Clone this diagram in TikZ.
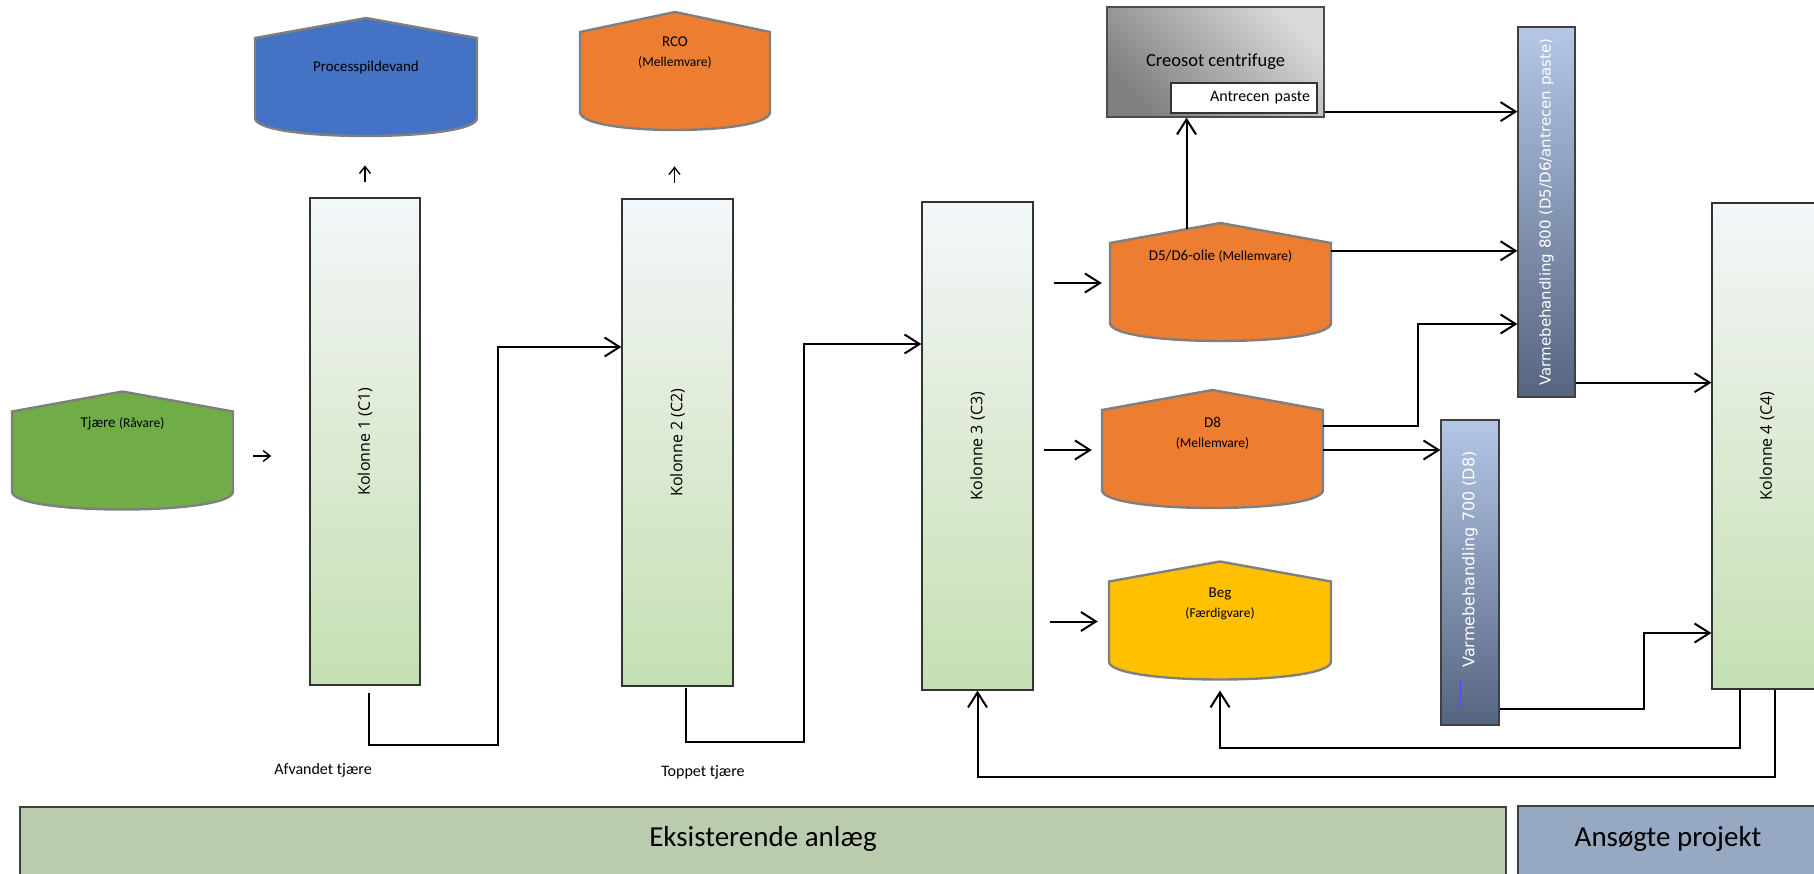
\documentclass[tikz,border=0pt]{standalone}
\usepackage{fontspec}
\setmainfont{Carlito}
\newfontfamily\kolfont{Open Sans}
\newfontfamily\vbfont{DejaVu Sans}
\usepackage{xcolor}
\usepackage{tikz}
\usetikzlibrary{arrows.meta}

\definecolor{tankline}{HTML}{7F7F7F}
\definecolor{tjgreen}{HTML}{70AD47}
\definecolor{procblue}{HTML}{4472C4}
\definecolor{mvorange}{HTML}{ED7D31}
\definecolor{beggold}{HTML}{FFC000}
\definecolor{koltop}{HTML}{F3F7FB}
\definecolor{kolmid}{HTML}{DDEAD3}
\definecolor{kolbot}{HTML}{C5E0B4}
\definecolor{vbtop}{HTML}{B4C7E7}
\definecolor{vbbot}{HTML}{56657F}
\definecolor{eksgreen}{HTML}{BBCCAE}
\definecolor{ansblue}{HTML}{97A8C3}

\newcommand{\mainsz}{\fontsize{15}{20}\selectfont}
\newcommand{\smallsz}{\fontsize{13.5}{20}\selectfont}

\tikzset{
kolonne/.style = { rectangle, draw = black!80, line width = 1.2pt, top color = koltop, bottom color = kolbot, middle color = kolmid, inner sep = 0pt },
koltext/.style = { rotate = 90, inner sep = 0pt, font = \kolfont\fontsize{16}{19}\selectfont },
vb/.style = { rectangle, draw = black!75, line width = 1.2pt, top color = vbtop, bottom color = vbbot, inner sep = 0pt },
vbtext/.style = { rotate = 90, inner sep = 0pt, text = white, font = \vbfont\fontsize{15}{18}\selectfont },
tanktext/.style = { align = center, inner sep = 0pt, font = \mainsz },
labeltext/.style = { inner sep = 0pt, font = \fontsize{16}{19}\selectfont },
legend/.style = { rectangle, draw = black!75, line width = 2pt, inner sep = 0pt },
legtext/.style = { inner sep = 0pt, font = \fontsize{29}{34}\selectfont },
flow/.style = { -{Straight Barb[length = 15pt, width = 19pt, line width = 2pt]}, line width = 2pt },
small flow/.style = { -{Straight Barb[length = 7pt, width = 11pt, line width = 1.4pt]}, line width = 1.4pt },
}
\tikzset{
pics/tank/.style args={#1, #2, #3, #4}{
        code = {
        \path[draw = tankline, line width = 2.4pt, fill = #2] (-#1/2, -40) -- (0, -60) -- (#1/2, -40) -- (#1/2, 40) .. controls (#1/2, 64) and (-#1/2, 64) .. (-#1/2, 40) -- cycle;
        \node[inner sep = 0pt, minimum width = #1pt, minimum height = 80pt] (-t) at (0, 0) {};
        \coordinate (-top) at (0, -60);
        \coordinate (-bot) at (0, 58);
        \node[tanktext] (-txt) at (0, -40 + #3) {#4};
        }
    }
}

\begin{document}
\begin{tikzpicture}[x = 1pt, y = -1pt]
      \useasboundingbox (0, 0) rectangle (1814, 873);
      % tanks
      \pic (tjaere) at (122.5, 451.5) {tank = {221, tjgreen, 12, {Tjære {\smallsz (Råvare)}}}};
      \pic (proc) at (366, 78) {tank = {222, procblue, 29, {Processpildevand}}};
      \pic (rco) at (675, 72) {tank = {190, mvorange, 21, {RCO\\{\smallsz (Mellemvare)}}}};
      \pic (d56) at (1220.5, 283) {tank = {221, mvorange, 13, {D5/D6-olie {\smallsz (Mellemvare)}}}};
      \pic (d8) at (1212.5, 450) {tank = {221, mvorange, 23.5, {D8\\{\smallsz (Mellemvare)}}}};
      \pic (beg) at (1220, 621.5) {tank = {222, beggold, 22, {Beg\\{\smallsz (Færdigvare)}}}};
      % kolonner
      \node[kolonne, minimum width = 110pt, minimum height = 487pt] (c1) at (365, 441.5) {};
      \node[koltext] (c1-txt) at (c1) {Kolonne 1 (C1)};
      \node[kolonne, minimum width = 111pt, minimum height = 487pt] (c2) at (677.5, 442.5) {};
      \node[koltext] (c2-txt) at (c2) {Kolonne 2 (C2)};
      \node[kolonne, minimum width = 111pt, minimum height = 488pt] (c3) at (977.5, 446) {};
      \node[koltext] (c3-txt) at (c3) {Kolonne 3 (C3)};
      \node[kolonne, minimum width = 110pt, minimum height = 486pt] (c4) at (1767, 446) {};
      \node[koltext] (c4-txt) at (c4) {Kolonne 4 (C4)};
      % centrifuge
      \node[draw = black!70, line width = 1.2pt, top color = black!15, bottom color = black!50, shading angle = -45, minimum width = 217pt, minimum height = 110pt, inner sep = 0pt, font = \fontsize{18.5}{22}\selectfont] (creo) at (1215.5, 62) {Creosot centrifuge};
      \node[draw = black!80, line width = 1.2pt, fill = white, minimum width = 146pt, minimum height = 30pt, inner sep = 0pt, text width = 132pt, align = right, font = \fontsize{16}{19}\selectfont] (antr) at (1244, 98) {Antrecen paste};
      % varmebehandling
      \node[vb, minimum width = 57pt, minimum height = 370pt] (vb8) at (1546.5, 212) {};
      \node[vbtext] (vb8-txt) at (vb8) {Varmebehandling 800 (D5/D6/antrecen paste)};
      \node[vb, minimum width = 58pt, minimum height = 305pt] (vb7) at (1470, 572.5) {};
      \node[vbtext, font = \vbfont\fontsize{16}{19}\selectfont] (vb7-txt) at ([yshift = 13pt]vb7.center) {Varmebehandling 700 (D8)};
      \draw[blue!70!white, line width = 1pt] ([shift = {(-10pt, -107pt)}]vb7.center) -- ++(0, 27);
      % labels
      \node[labeltext] (afv) at (323, 770) {Afvandet tjære};
      \node[labeltext] (toppet) at (703, 772) {Toppet tjære};
      % legend
      \node[legend, fill = eksgreen, minimum width = 1486pt, minimum height = 74pt] (eks) at (763, 844) {};
      \node[legtext] (eks-txt) at ([yshift = 5pt]eks.center) {Eksisterende anlæg};
      \node[legend, fill = ansblue, minimum width = 300pt, minimum height = 74pt] (ans) at (1668, 843) {};
      \node[legtext] (ans-txt) at ([yshift = 4pt]ans.center) {Ansøgte projekt};
      % small arrows
      \draw[small flow] ([shift = {(20pt, -4.5pt)}]tjaere-t.east) -- ++(18, 0);
      \draw[small flow] ([yshift = 15pt]c1.north) -- ++(0, -17);
      \draw[small flow] ([shift = {(-3pt, 15pt)}]c2.north) -- ++(0, -17);
      % C1 -> C2 -> C3
      \coordinate (k12) at (498, 347);
      \draw[flow] ([shift = {(4pt, -7pt)}]c1.south) -- ++(0, 52) -| (k12) -- (k12 -| c2.west);
      \coordinate (k23) at (804, 344);
      \draw[flow] ([shift = {(8pt, -1pt)}]c2.south) -- ++(0, 54) -| (k23) -- (k23 -| c3.west);
      % C3 -> tanks
      \draw[flow] ([xshift = 20pt]c3.east |- d56-t.west) -- ([xshift = -8pt]d56-t.west);
      \draw[flow] ([xshift = 10pt]c3.east |- d8-t.west) -- ([xshift = -10pt]d8-t.west);
      \draw[flow] ([xshift = 16pt]c3.east |- beg-t.west) -- ([xshift = -11pt]beg-t.west);
      % D5/D6 and D8 onwards
      \draw[flow] ([shift = {(-34pt, -6pt)}]d56-top) -- ([xshift = -34pt]d56-top |- creo.south);
      \draw[flow] ([yshift = 6pt]creo.south east) -- ([yshift = 6pt]creo.south east -| vb8.west);
      \draw[flow] ([yshift = -8pt]d56-t.north east) -- ([yshift = -8pt]d56-t.north east -| vb8.west);
      \coordinate (k8) at (1418, 324);
      \draw[flow] ([yshift = -16pt]d8-t.north east) -| (k8) -- (k8 -| vb8.west);
      \draw[flow] (d8-t.east) -- (d8-t.east -| vb7.west);
      % into C4
      \draw[flow] ([yshift = 15pt]vb8.south east) -- ([yshift = 15pt]vb8.south east -| c4.west);
      \coordinate (k7) at (1644, 633);
      \draw[flow] ([yshift = 17pt]vb7.south east) -| (k7) -- (k7 -| c4.west);
      % C4 back
      \draw[flow] ([xshift = 29pt]c4.south west) |- ([yshift = -68pt]beg-bot) -- ([yshift = -11pt]beg-bot);
      \draw[flow] ([xshift = 64pt]c4.south west) |- ([yshift = -86pt]c3.south) -- (c3.south);
\end{tikzpicture}
\end{document}
